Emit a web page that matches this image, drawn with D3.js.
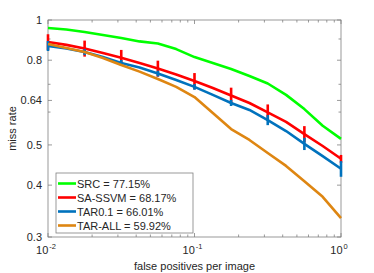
<!DOCTYPE html>
<html>
<head>
<meta charset="utf-8">
<script src="https://cdn.jsdelivr.net/npm/d3@7"></script>
<style>
body { margin: 0; background: #fff; }
text { font-family: "Liberation Sans", Arial, sans-serif; fill: #262626; }
</style>
</head>
<body>
<div id="chart"></div>
<script>
const width = 374;
const height = 273;
const margin = { top: 20, right: 33, bottom: 36, left: 48 };

// log10(fppi) steps of 0.125 from 1e-2 to 1e0
const fppi = [0.01, 0.01334, 0.01778, 0.02371, 0.03162, 0.04217, 0.05623, 0.07499,
    0.1, 0.1334, 0.1778, 0.2371, 0.3162, 0.4217, 0.5623, 0.7499, 1.0];

const srcMR = [0.957, 0.949, 0.936, 0.920, 0.905, 0.888, 0.878, 0.851,
    0.814, 0.788, 0.762, 0.733, 0.703, 0.660, 0.610, 0.556, 0.517];
const ssvmMR = [0.885, 0.871, 0.854, 0.833, 0.811, 0.788, 0.764, 0.739,
    0.713, 0.686, 0.658, 0.631, 0.599, 0.568, 0.531, 0.497, 0.463];
const tar01MR = [0.866, 0.854, 0.837, 0.814, 0.788, 0.768, 0.743, 0.717,
    0.690, 0.660, 0.631, 0.607, 0.574, 0.540, 0.503, 0.470, 0.438];
const tarAllMR = [0.875, 0.856, 0.837, 0.810, 0.779, 0.751, 0.721, 0.690,
    0.652, 0.597, 0.546, 0.514, 0.478, 0.445, 0.409, 0.375, 0.333];

// error bars at every second point (0.25 decade)
const errIdx = [0, 2, 4, 6, 8, 10, 12, 14, 16];
const ssvmErr = [0.039, 0.038, 0.036, 0.034, 0.032, 0.029, 0.027, 0.024, 0.010];
const tar01Err = [0.024, 0.014, 0.013, 0.012, 0.011, 0.0105, 0.016, 0.017, 0.019];

const names = ["SRC = 77.15%", "SA-SSVM = 68.17%", "TAR0.1 = 66.01%", "TAR-ALL = 59.92%"];
const colors = ["#00ff00", "#ff0000", "#0072bd", "#de8612"];

const yTickVals = [0.3, 0.4, 0.5, 0.64, 0.8, 1];
const yMinor = [0.6, 0.7, 0.9];

const svg = d3.select("#chart").append("svg")
    .attr("width", width)
    .attr("height", height);

const x = d3.scaleLog().domain([0.01, 1]).range([margin.left, width - margin.right]);
const y = d3.scaleLog().domain([0.3, 1]).range([height - margin.bottom, margin.top]);

const x0 = margin.left, x1 = width - margin.right;
const y0 = height - margin.bottom, y1 = margin.top;

// box
svg.append("rect")
    .attr("x", x0).attr("y", y1)
    .attr("width", x1 - x0).attr("height", y0 - y1)
    .attr("fill", "none").attr("stroke", "#808080").attr("stroke-width", 0.8);

// x ticks (bottom and top, inside)
const xMajor = [0.01, 0.1, 1];
const xMinor = [];
[0.01, 0.1].forEach(b => { for (let k = 2; k <= 9; k++) xMinor.push(b * k); });
const tickG = svg.append("g").attr("stroke", "#808080").attr("stroke-width", 0.8);
xMajor.concat(xMinor).forEach(v => {
    const len = xMajor.includes(v) ? 4 : 2.5;
    tickG.append("line").attr("x1", x(v)).attr("x2", x(v)).attr("y1", y0).attr("y2", y0 - len);
    tickG.append("line").attr("x1", x(v)).attr("x2", x(v)).attr("y1", y1).attr("y2", y1 + len);
});
yTickVals.concat(yMinor).forEach(v => {
    const len = yTickVals.includes(v) ? 4 : 2.5;
    tickG.append("line").attr("y1", y(v)).attr("y2", y(v)).attr("x1", x0).attr("x2", x0 + len);
    tickG.append("line").attr("y1", y(v)).attr("y2", y(v)).attr("x1", x1).attr("x2", x1 - len);
});

// y tick labels
svg.append("g").selectAll("text")
    .data(yTickVals)
    .enter().append("text")
    .attr("x", x0 - 6)
    .attr("y", d => y(d) + 4)
    .attr("text-anchor", "end")
    .attr("font-size", 11)
    .text(d => d);

// x tick labels 10^n
const xl = svg.append("g");
[-2, -1, 0].forEach(p => {
    const t = xl.append("text")
        .attr("x", x(Math.pow(10, p)) - 2)
        .attr("y", y0 + 17)
        .attr("text-anchor", "middle")
        .attr("font-size", 11);
    t.append("tspan").text("10");
    t.append("tspan").attr("dy", -5).attr("dx", 1).attr("font-size", 7.5).text(p === 0 ? "0" : String(p));
});

// axis labels
svg.append("text")
    .attr("x", (x0 + x1) / 2)
    .attr("y", height - 3)
    .attr("text-anchor", "middle")
    .attr("font-size", 11)
    .text("false positives per image");
svg.append("text")
    .attr("transform", `translate(16,${(y0 + y1) / 2}) rotate(-90)`)
    .attr("text-anchor", "middle")
    .attr("font-size", 11)
    .text("miss rate");

const line = d3.line()
    .x(d => x(d[0]))
    .y(d => y(d[1]));

const series = [srcMR, ssvmMR, tar01MR, tarAllMR];
const errs = [null, ssvmErr, tar01Err, null];
const plot = svg.append("g");

series.forEach((s, i) => {
    plot.append("path")
        .datum(fppi.map((f, j) => [f, s[j]]))
        .attr("fill", "none")
        .attr("stroke", colors[i])
        .attr("stroke-width", 2.6)
        .attr("stroke-linejoin", "round")
        .attr("d", line);
    if (errs[i]) {
        plot.append("g").selectAll("line")
            .data(errIdx)
            .enter().append("line")
            .attr("x1", d => x(fppi[d]))
            .attr("x2", d => x(fppi[d]))
            .attr("y1", (d, k) => y(s[d] - errs[i][k]))
            .attr("y2", (d, k) => y(s[d] + errs[i][k]))
            .attr("stroke", colors[i])
            .attr("stroke-width", 2.6);
    }
});

// legend
const lg = svg.append("g");
lg.append("rect")
    .attr("x", 56).attr("y", 173)
    .attr("width", 137).attr("height", 60)
    .attr("fill", "#fff").attr("stroke", "#808080").attr("stroke-width", 0.8);
names.forEach((n, i) => {
    const yy = 183.5 + i * 14;
    lg.append("line")
        .attr("x1", 58).attr("x2", 76)
        .attr("y1", yy).attr("y2", yy)
        .attr("stroke", colors[i]).attr("stroke-width", 2.6);
    lg.append("text")
        .attr("x", 77).attr("y", yy + 4)
        .attr("font-size", 11)
        .text(n);
});
</script>
</body>
</html>
